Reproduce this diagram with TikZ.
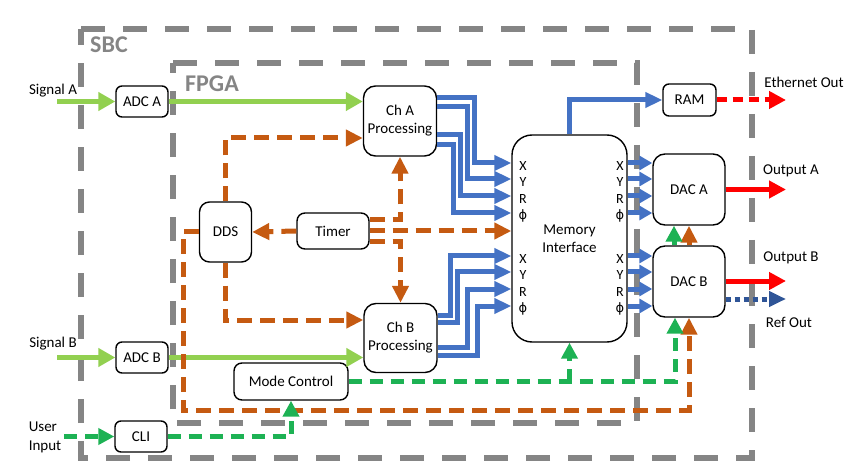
\documentclass[tikz,border=0pt]{standalone}
\usepackage{fontspec}
\setmainfont{Carlito}
\newfontfamily\symfont{DejaVu Sans}
\usetikzlibrary{arrows.meta}
\definecolor{sigGreen}{HTML}{92D050}
\definecolor{ctlGreen}{HTML}{1DB254}
\definecolor{clkOrange}{HTML}{C55A11}
\definecolor{busBlue}{HTML}{4472C4}
\definecolor{refBlue}{HTML}{2F5597}
\definecolor{frameGray}{HTML}{858585}

\begin{document}
\begin{tikzpicture}[x=1pt, y=-1pt,
    font=\fontsize{15}{18}\selectfont,
    box/.style={draw=black, fill=white, rectangle, rounded corners=6pt, line width=1.4pt, align=center, inner sep=0pt},
    framebox/.style={draw=frameGray, line width=6pt, dash pattern=on 24pt off 18pt},
    framelbl/.style={text=frameGray, font=\fontsize{24}{28}\selectfont\bfseries, inner sep=0pt, anchor=base west},
    lbl/.style={align=left, inner sep=0pt},
    portlbl/.style={inner sep=0pt, font=\fontsize{14}{16}\selectfont},
    sig/.style={sigGreen, line width=5pt, -{Triangle[length=17pt,width=18pt]}},
    clk/.style={clkOrange, line width=5pt, dash pattern=on 15pt off 8pt, -{Triangle[length=17pt,width=16pt]}},
    ctl/.style={ctlGreen, line width=5pt, dash pattern=on 13pt off 8pt, -{Triangle[length=16pt,width=16pt]}},
    bus/.style={busBlue, line width=5pt, -{Triangle[length=17pt,width=15pt]}},
    portarrow/.style={busBlue, line width=5pt, -{Triangle[length=13pt,width=14pt]}},
    dacout/.style={red, line width=5pt, -{Triangle[length=17pt,width=17pt]}},
    ethline/.style={dacout, dash pattern=on 10pt off 6pt},
    refline/.style={refBlue, line width=5pt, dash pattern=on 5pt off 4pt, -{Triangle[length=17pt,width=15pt]}}
]
\useasboundingbox (0,0) rectangle (857,465);

% SBC and FPGA borders
\draw[framebox] (81,29) -- (752,29) -- (752,458) -- (81,458) -- cycle;
\draw[framebox] (173,63) -- (637,63) -- (637,423) -- (173,423) -- cycle;
\node[framelbl] (sbcLbl) at (90,53) {SBC};
\node[framelbl] (fpgaLbl) at (185,92) {FPGA};

% blocks
\node[box, minimum width=52pt, minimum height=31pt] (adcA) at (142,101.5) {ADC A};
\node[box, minimum width=52pt, minimum height=31pt] (adcB) at (142,357.5) {ADC B};
\node[box, minimum width=52pt, minimum height=31pt] (cli) at (141,436.5) {CLI};
\node[box, rounded corners=12pt, minimum width=73pt, minimum height=70pt] (chA) at (400,121) {Ch A\\Processing};
\node[box, rounded corners=12pt, minimum width=73pt, minimum height=69pt] (chB) at (400.5,338) {Ch B\\Processing};
\node[box, rounded corners=10pt, minimum width=52pt, minimum height=60pt] (dds) at (225.5,232) {DDS};
\node[box, rounded corners=8pt, minimum width=72pt, minimum height=36pt] (timer) at (333,231) {Timer};
\node[box, rounded corners=8pt, minimum width=114pt, minimum height=37pt] (mode) at (291,381.5) {Mode Control};
\node[box, rounded corners=20pt, minimum width=115pt, minimum height=207pt] (mem) at (569.5,238.5) {Memory\\Interface};
\node[box, minimum width=53pt, minimum height=32pt] (ram) at (689.5,100) {RAM};
\node[box, rounded corners=12pt, minimum width=72pt, minimum height=71pt] (dacA) at (689,189.5) {DAC A};
\node[box, rounded corners=12pt, minimum width=72pt, minimum height=71pt] (dacB) at (689,281.5) {DAC B};

% memory ports
\foreach \t/\ya/\yb [count=\i] in {X/166/259, Y/182/275, R/199/292, {\symfont\fontsize{13}{15}\selectfont ϕ}/216/309} {
  \node[portlbl] (plA\i) at (523,\ya) {\t};
  \node[portlbl] (plB\i) at (523,\yb) {\t};
  \node[portlbl] (prA\i) at (620,\ya) {\t};
  \node[portlbl] (prB\i) at (620,\yb) {\t};
}

% outside texts
\node[lbl] (sigA) at (53,91) {Signal A};
\node[lbl] (sigB) at (53,344) {Signal B};
\node[lbl, font=\fontsize{15}{19}\selectfont] (user) at (45,437) {User\\Input};
\node[lbl] (ethLbl) at (804,82) {Ethernet Out};
\node[lbl] (outALbl) at (791,171) {Output A};
\node[lbl] (outBLbl) at (791,258) {Output B};
\node[lbl] (refLbl) at (789,322) {Ref Out};

\coordinate (inA) at (57,101.5);
\coordinate (inB) at (57,357.5);
\coordinate (inU) at (64,436.5);
\coordinate (ethEnd) at (786,100);
\coordinate (outAEnd) at (786,189.5);
\coordinate (outBEnd) at (786,281);
\coordinate (refEnd) at (786,299);

% signal path
\draw[sig] (inA) -- (adcA);
\draw[sig] (adcA.east) -- (chA.west |- adcA.east);
\draw[sig] (inB) -- (adcB);
\draw[sig] (adcB.east) -- (chB.west |- adcB.east);

% clocks
\draw[clk] (dds.north) |- (chA.west |- 0,138);
\draw[clk] (dds.south) |- (chB.west |- 0,320);
\draw[clk] (timer.west) -- (dds.east);
\draw[clk] (timer.east |- 0,220) -| (chA.south);
\draw[clk] (timer.east) -- (mem.west |- timer.east);
\draw[clk] (timer.east |- 0,242) -| (chB.north);
\draw[clk] (dds.west) -| (183,410) -| (dacB.south);
\draw[clk] (dacB.north) -- (dacA.south);

% control
\draw[ctl] (inU) -- (cli);
\draw[ctl] (cli.east) -| (mode.south);
\draw[ctl] (mode.east) -| ([xshift=-14pt]dacB.south);
\draw[ctl] (mem.south |- mode.east) -- (mem.south);
\draw[ctl] ([xshift=-15pt]dacB.north) -- ([xshift=-15pt]dacA.south);

% data buses
\foreach \sy/\bx/\ey in {98/474/163, 107/467/179, 135/460/196, 145/453/213}
  \draw[bus] (chA.east |- 0,\sy) -| (\bx,\ey) -- (mem.west |- 0,\ey);
\foreach \sy/\bx/\ey in {315/450/256, 322/457/272, 347/467/289, 355/477/306}
  \draw[bus] (chB.east |- 0,\sy) -| (\bx,\ey) -- (mem.west |- 0,\ey);
\foreach \y in {163,179,196,213}
  \draw[portarrow] (mem.east |- 0,\y) -- (dacA.west |- 0,\y);
\foreach \y in {256,272,289,306}
  \draw[portarrow] (mem.east |- 0,\y) -- (dacB.west |- 0,\y);
\draw[bus] (mem.north) |- (ram.west);

% outputs
\draw[ethline] (ram.east) -- (ethEnd);
\draw[dacout] (dacA.east) -- (outAEnd);
\draw[dacout] (dacB.east |- outBEnd) -- (outBEnd);
\draw[refline] (dacB.east |- refEnd) -- (refEnd);
\end{tikzpicture}
\end{document}
